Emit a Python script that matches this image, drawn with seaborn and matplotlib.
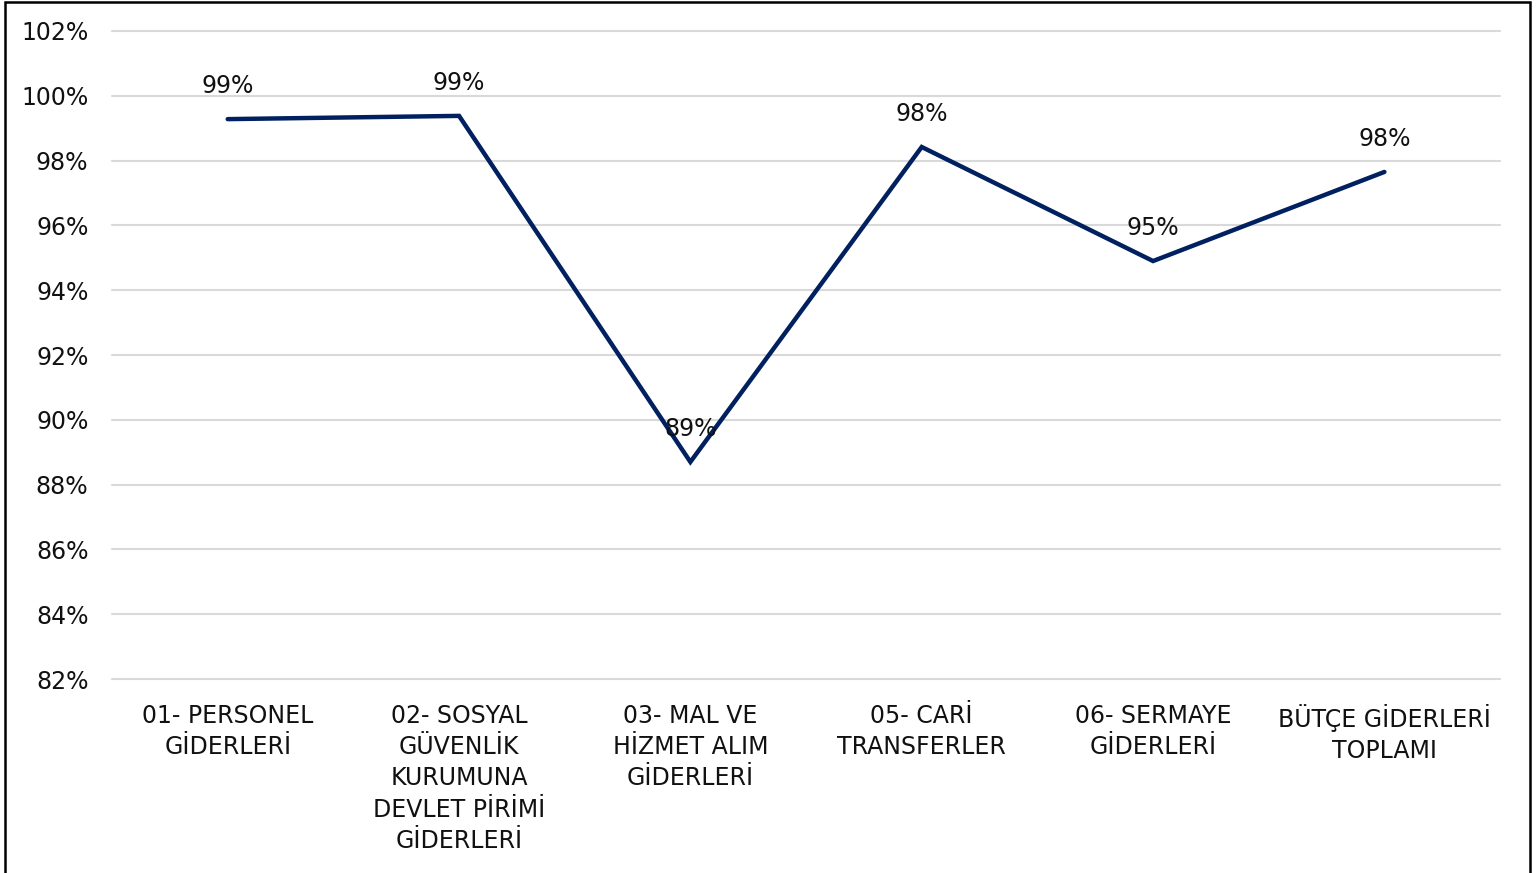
import matplotlib
matplotlib.use("Agg")
import matplotlib.pyplot as plt
import pandas as pd
import seaborn as sns
from matplotlib.patches import Rectangle
from matplotlib.ticker import FuncFormatter, MultipleLocator

# ---------- data ----------
kalemler = ["01- PERSONEL\nGİDERLERİ",
            "02- SOSYAL\nGÜVENLİK\nKURUMUNA\nDEVLET PİRİMİ\nGİDERLERİ",
            "03- MAL VE\nHİZMET ALIM\nGİDERLERİ",
            "05- CARİ\nTRANSFERLER",
            "06- SERMAYE\nGİDERLERİ",
            "BÜTÇE GİDERLERİ\nTOPLAMI"]
oran = [99.28, 99.38, 88.70, 98.42, 94.90, 97.65]
etiket = ["99%", "99%", "89%", "98%", "95%", "98%"]

df = pd.DataFrame({"poz": range(len(kalemler)), "oran": oran})

sns.set_theme(style="white")
plt.rcParams["font.family"] = ["DejaVu Sans"]

fig = plt.figure(figsize=(15.39, 8.73), dpi=100)
ax = fig.add_axes([0.0728, 0.2222, 0.9019, 0.7423])

sns.lineplot(data=df, x="poz", y="oran", ax=ax, color="#002060",
             linewidth=3.2, solid_capstyle="round", solid_joinstyle="miter")

for i, (v, t) in enumerate(zip(oran, etiket)):
    ax.annotate(t, (i, v), xytext=(0, 24), textcoords="offset points",
                ha="center", va="center", fontsize=17, color="#111111")

ax.set_xlim(-0.5, len(kalemler) - 0.5)
ax.set_ylim(82, 102)
ax.yaxis.set_major_locator(MultipleLocator(2))
ax.yaxis.set_major_formatter(FuncFormatter(lambda y, p: f"{y:.0f}%"))
ax.set_xticks(range(len(kalemler)))
ax.set_xticklabels(kalemler, fontsize=17, color="#111111", linespacing=1.38)
ax.tick_params(axis="y", labelsize=17, labelcolor="#111111", pad=17, length=0)
ax.tick_params(axis="x", pad=18, length=0)
ax.set_xlabel("")
ax.set_ylabel("")
ax.grid(axis="y", color="#d9d9d9", linewidth=1.5)
for gl in ax.get_ygridlines():
    gl.set_clip_on(False)
ax.set_axisbelow(True)
for s in ax.spines.values():
    s.set_visible(False)

# outer frame
fig.patches.append(Rectangle((0.0033, -0.05), 0.9909, 1.0477, transform=fig.transFigure,
                             fill=False, edgecolor="black", linewidth=1.8))

fig.savefig("out.png", dpi=100)
